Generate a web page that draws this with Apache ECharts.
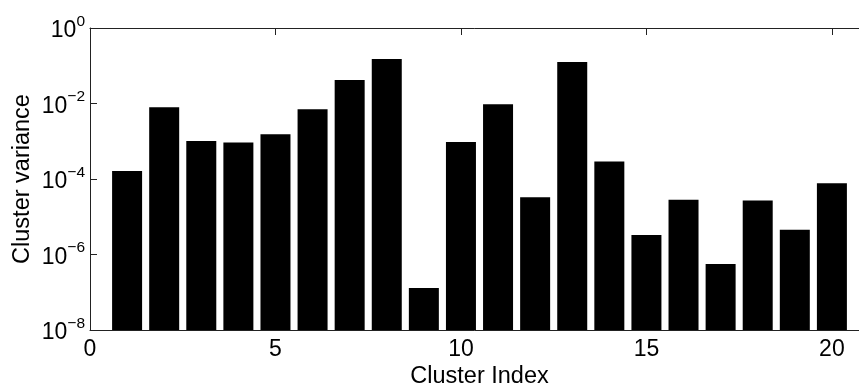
<!DOCTYPE html>
<html>
<head>
<meta charset="utf-8">
<script src="https://cdn.jsdelivr.net/npm/echarts@6/dist/echarts.min.js"></script>
<style>
  html, body { margin: 0; padding: 0; background: #fff; }
  #chart { width: 859px; height: 385px; }
</style>
</head>
<body>
<div id="chart"></div>
<script>
// Cluster number and the variance measured inside each cluster
const clusterIndex = [1, 2, 3, 4, 5, 6, 7, 8, 9, 10, 11, 12, 13, 14, 15, 16, 17, 18, 19, 20];
const clusterVariance = [
  1.63e-4, 7.9e-3, 1.02e-3, 9.2e-4, 1.53e-3, 7.0e-3, 4.2e-2, 1.51e-1, 1.3e-7, 9.5e-4,
  9.5e-3, 3.3e-5, 1.26e-1, 2.9e-4, 3.3e-6, 2.8e-5, 5.6e-7, 2.7e-5, 4.5e-6, 7.7e-5
];
const xTickLabels = [0, 5, 10, 15, 20];

const FONT = 'Liberation Sans, Arial, Helvetica, sans-serif';
const AXIS_COLOR = '#222';

const chart = echarts.init(document.getElementById('chart'), null, { renderer: 'canvas' });

function powerLabel(v) {
  const e = Math.round(Math.log10(v));
  const exp = e < 0 ? '\u2212' + (-e) : String(e);
  return '{b|10}{s|' + exp + '}';
}

const xCommon = {
  type: 'value',
  min: 0,
  max: 21,
  interval: 5,
  splitLine: { show: false },
  axisLine: { show: true, onZero: false, lineStyle: { color: AXIS_COLOR, width: 1 } },
  axisTick: {
    show: true, inside: true, length: 7, customValues: xTickLabels,
    lineStyle: { color: AXIS_COLOR }
  }
};

chart.setOption({
  animation: false,
  backgroundColor: '#fff',
  grid: {
    left: 90, right: -10, top: 28, bottom: 55,
    containLabel: false, outerBoundsMode: 'none'
  },
  xAxis: [
    Object.assign({}, xCommon, {
      position: 'bottom',
      name: 'Cluster Index',
      nameLocation: 'middle',
      nameGap: 35,
      nameMoveOverlap: false,
      nameTextStyle: { fontFamily: FONT, fontSize: 23.5, color: '#000' },
      axisLabel: {
        fontFamily: FONT, fontSize: 23, color: '#000', margin: 8,
        customValues: xTickLabels,
        formatter: v => String(v)
      }
    }),
    Object.assign({}, xCommon, {
      position: 'top',
      axisLabel: { show: false }
    })
  ],
  yAxis: {
    type: 'log',
    logBase: 10,
    min: 1e-8,
    max: 1,
    interval: 2,
    startValue: 1e-8,
    splitLine: { show: false },
    minorTick: { show: false },
    axisLine: { show: true, lineStyle: { color: AXIS_COLOR, width: 1 } },
    axisTick: { show: true, inside: true, length: 7, lineStyle: { color: AXIS_COLOR } },
    name: 'Cluster variance',
    nameLocation: 'middle',
    nameGap: 55,
    nameMoveOverlap: false,
    nameTextStyle: { fontFamily: FONT, fontSize: 23.5, color: '#000' },
    axisLabel: {
      margin: 5,
      color: '#000',
      formatter: powerLabel,
      rich: {
        b: { fontFamily: FONT, fontSize: 23, color: '#000', padding: [6, 0, 0, 0] },
        s: { fontFamily: FONT, fontSize: 15.5, color: '#000', verticalAlign: 'top' }
      }
    }
  },
  series: [{
    type: 'bar',
    xAxisIndex: 0,
    barWidth: 30,
    itemStyle: { color: '#000' },
    data: clusterIndex.map((c, i) => [c, clusterVariance[i]])
  }]
});
</script>
</body>
</html>
